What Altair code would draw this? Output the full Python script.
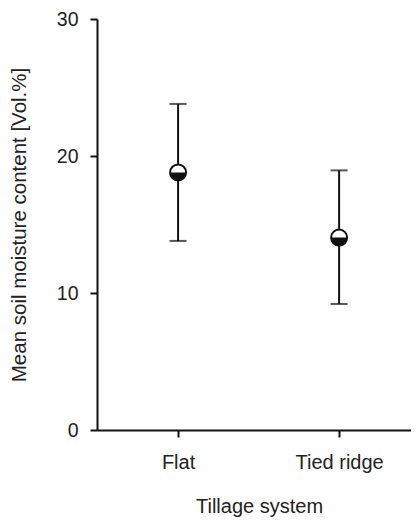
import altair as alt
import pandas as pd

categories = ["Flat", "Tied ridge"]
means = [18.8, 14.05]
lowers = [13.8, 9.2]
uppers = [23.8, 18.95]

df = pd.DataFrame({"cat": categories, "mean": means, "lo": lowers, "hi": uppers})

FONT = "Liberation Sans"
INK = "#111111"
TXT = "#222222"

x = alt.X("cat:N", sort=categories,
          scale=alt.Scale(type="point", padding=0.475, align=0.53),
          axis=alt.Axis(title="Tillage system", labelAngle=0, labelFontSize=20,
                        titleFontSize=20, labelPadding=15, titlePadding=24, titleX=162))
y_scale = alt.Scale(domain=[0, 30], nice=False, zero=True)
y_axis = alt.Axis(title="Mean soil moisture content [Vol.%]", values=[0, 10, 20, 30],
                  labelFontSize=19.5, titleFontSize=20.5, labelPadding=12, titlePadding=27)

base = alt.Chart(df)

rule = base.mark_rule(color=INK, strokeWidth=2).encode(
    x=x, y=alt.Y("lo:Q", scale=y_scale, axis=y_axis), y2="hi:Q")
cap_lo = base.mark_tick(color=INK, size=17, thickness=2).encode(x=x, y=alt.Y("lo:Q", scale=y_scale))
cap_hi = base.mark_tick(color=INK, size=17, thickness=2).encode(x=x, y=alt.Y("hi:Q", scale=y_scale))
circ = base.mark_point(shape="circle", size=256, filled=True, fill="white", stroke=INK,
                       strokeWidth=2, opacity=1).encode(x=x, y=alt.Y("mean:Q", scale=y_scale))
half = base.mark_point(shape="M -1 0 A 1 1 0 0 0 1 0 Z", size=256, filled=True, fill=INK,
                       strokeWidth=0, opacity=1).encode(x=x, y=alt.Y("mean:Q", scale=y_scale))

chart = alt.layer(rule, cap_lo, cap_hi, circ, half).properties(
    width=314, height=411,
    autosize=alt.AutoSizeParams(type="none"),
    padding={"left": 89, "top": 11, "right": 0, "bottom": 92},
).configure_view(stroke=None).configure_axis(
    domainColor=INK, domainWidth=2, tickColor=INK, tickWidth=2, tickSize=7,
    grid=False, labelFont=FONT, titleFont=FONT, labelColor=TXT,
    titleColor=TXT, titleFontWeight="normal",
)

chart.save("out.html", embed_options={"renderer": "svg", "actions": False})
